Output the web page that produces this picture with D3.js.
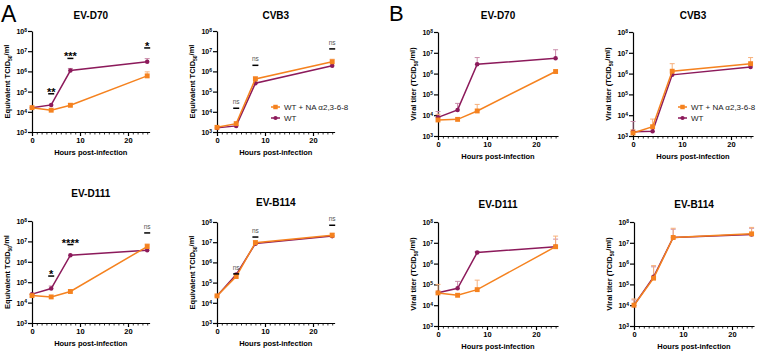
<!DOCTYPE html>
<html>
<head>
<meta charset="utf-8">
<script src="https://cdn.jsdelivr.net/npm/d3@7"></script>
<style>
  body { margin: 0; background: #fff; }
  text { font-family: "Liberation Sans", Arial, sans-serif; }
</style>
</head>
<body>
<svg id="fig" width="763" height="351"></svg>
<script>
// sampling times (hours post-infection)
const HOURS = [0, 4, 8, 24];
const SERIES = ["WT + NA \u03b12,3-6-8", "WT"];
const Y_TICKS = [1e3, 1e4, 1e5, 1e6, 1e7, 1e8];
const X_TICKS = [0, 10, 20];

// panel A: equivalent TCID50/ml (means, upper error caps)
const eqD70_na = [1.6e4, 1.2e4, 2.1e4, 6.0e5];
const eqD70_wt = [1.6e4, 2.2e4, 1.1e6, 3.0e6];
const eqD70_naErr = [null, null, 2.6e4, 9.5e5];
const eqD70_wtErr = [null, null, 1.4e6, 4.3e6];
const eqD70_sig = ["**", "***", "*"];
const eqD70_sigY = [7.8e4, 4.4e6, 1.45e7];

const eqCVB3_na = [1.7e3, 2.6e3, 4.2e5, 3.0e6];
const eqCVB3_wt = [1.6e3, 2.0e3, 2.6e5, 1.9e6];
const eqCVB3_naErr = [null, null, 5.5e5, 4.0e6];
const eqCVB3_wtErr = [null, null, null, null];
const eqCVB3_sig = ["ns", "ns", "ns"];
const eqCVB3_sigY = [1.5e4, 2.0e6, 1.3e7];

const eqD111_na = [2.2e4, 1.9e4, 3.5e4, 5.6e6];
const eqD111_wt = [2.6e4, 4.9e4, 2.1e6, 3.7e6];
const eqD111_naErr = [null, null, 4.2e4, 7.5e6];
const eqD111_wtErr = [null, 6.5e4, null, null];
const eqD111_sig = ["*", "****", "ns"];
const eqD111_sigY = [2.0e5, 7.0e6, 2.6e7];

const eqB114_na = [2.2e4, 2.0e5, 9.5e6, 2.2e7];
const eqB114_wt = [2.2e4, 2.5e5, 8.5e6, 2.0e7];
const eqB114_naErr = [null, null, 1.2e7, 2.8e7];
const eqB114_wtErr = [null, null, null, null];
const eqB114_sig = ["ns", "ns", "ns"];
const eqB114_sigY = [2.7e5, 1.8e7, 6.9e7];

// panel B: viral titer TCID50/ml
const vtD70_na = [5.9e3, 6.3e3, 1.6e4, 1.26e6];
const vtD70_wt = [7.9e3, 1.8e4, 2.8e6, 5.5e6];
const vtD70_naErr = [1.1e4, null, 3.3e4, null];
const vtD70_wtErr = [1.5e4, 3.7e4, 5.9e6, 1.4e7];

const vtCVB3_na = [1.4e3, 2.8e3, 1.3e6, 3.0e6];
const vtCVB3_wt = [1.6e3, 1.7e3, 8.7e5, 2.1e6];
const vtCVB3_naErr = [2.0e3, 6.5e3, 3.0e6, 5.9e6];
const vtCVB3_wtErr = [5.0e3, null, null, null];

const vtD111_na = [3.9e4, 3.0e4, 5.6e4, 6.5e6];
const vtD111_wt = [4.0e4, 6.5e4, 3.4e6, 6.5e6];
const vtD111_naErr = [1.0e5, null, 1.6e5, 2.1e7];
const vtD111_wtErr = [null, 1.4e5, 3.8e6, 1.5e7];

const vtB114_na = [1.0e4, 2.0e5, 1.8e7, 2.7e7];
const vtB114_wt = [1.0e4, 2.3e5, 1.8e7, 2.5e7];
const vtB114_naErr = [2.0e4, 8.0e5, 5.0e7, 5.5e7];
const vtB114_wtErr = [1.8e4, 7.0e5, 4.5e7, 5.0e7];

const ORANGE = "#f5821f", PURPLE = "#8c1a5b";
const ORANGE_ERR = "#f7b07a", PURPLE_ERR = "#c98aa8";

const svg = d3.select("#fig");

const panels = [
  { title: "EV-D70", x0: 32, px: 4.8, top: 31, bot: 132, titleY: 19, lab: "eq",
    na: eqD70_na, wt: eqD70_wt, naErr: eqD70_naErr, wtErr: eqD70_wtErr, sig: eqD70_sig, sigY: eqD70_sigY },
  { title: "CVB3", x0: 217, px: 4.8, top: 31, bot: 132, titleY: 19, lab: "eq", legend: [271, 107],
    na: eqCVB3_na, wt: eqCVB3_wt, naErr: eqCVB3_naErr, wtErr: eqCVB3_wtErr, sig: eqCVB3_sig, sigY: eqCVB3_sigY },
  { title: "EV-D111", x0: 32, px: 4.8, top: 221, bot: 323, titleY: 197, lab: "eq",
    na: eqD111_na, wt: eqD111_wt, naErr: eqD111_naErr, wtErr: eqD111_wtErr, sig: eqD111_sig, sigY: eqD111_sigY },
  { title: "EV-B114", x0: 217, px: 4.8, top: 222, bot: 323, titleY: 206, lab: "eq",
    na: eqB114_na, wt: eqB114_wt, naErr: eqB114_naErr, wtErr: eqB114_wtErr, sig: eqB114_sig, sigY: eqB114_sigY },
  { title: "EV-D70", x0: 438, px: 4.9, top: 32, bot: 136, titleY: 19, lab: "vt",
    na: vtD70_na, wt: vtD70_wt, naErr: vtD70_naErr, wtErr: vtD70_wtErr },
  { title: "CVB3", x0: 633, px: 4.9, top: 32, bot: 136, titleY: 19, lab: "vt", legend: [678, 107],
    na: vtCVB3_na, wt: vtCVB3_wt, naErr: vtCVB3_naErr, wtErr: vtCVB3_wtErr },
  { title: "EV-D111", x0: 438, px: 4.9, top: 222, bot: 326, titleY: 208, lab: "vt",
    na: vtD111_na, wt: vtD111_wt, naErr: vtD111_naErr, wtErr: vtD111_wtErr },
  { title: "EV-B114", x0: 634, px: 4.9, top: 222, bot: 326, titleY: 208, lab: "vt",
    na: vtB114_na, wt: vtB114_wt, naErr: vtB114_naErr, wtErr: vtB114_wtErr }
];

// panel letters
svg.append("text").attr("x", 1).attr("y", 22).attr("font-size", 23).text("A");
svg.append("text").attr("x", 389).attr("y", 21).attr("font-size", 22).text("B");

panels.forEach(drawPanel);

function drawPanel(p) {
  const x = d3.scaleLinear().domain([0, 24.5]).range([p.x0, p.x0 + 24.5 * p.px]);
  const y = d3.scaleLog().domain([1e3, 1e8]).range([p.bot, p.top]);
  const g = svg.append("g");
  const mid = (x.range()[0] + x.range()[1]) / 2;

  g.append("text")
    .attr("x", mid).attr("y", p.titleY)
    .attr("text-anchor", "middle").attr("font-size", 10).attr("font-weight", "bold")
    .text(p.title);

  // minor x ticks
  g.append("g")
    .attr("transform", "translate(0," + p.bot + ")")
    .call(d3.axisBottom(x).tickValues(d3.range(0, 25)).tickSize(2.5).tickSizeOuter(0).tickFormat(""))
    .call(a => a.select(".domain").remove())
    .selectAll("line").attr("stroke-width", 0.8);

  const xa = g.append("g")
    .attr("transform", "translate(0," + p.bot + ")")
    .call(d3.axisBottom(x).tickValues(X_TICKS).tickSize(4).tickSizeOuter(0).tickPadding(2));
  xa.select(".domain").attr("stroke-width", 1.2);
  xa.selectAll("line").attr("stroke-width", 1.2);
  xa.selectAll("text").attr("font-size", 7.5).attr("font-weight", "bold")
    .attr("font-family", "'Liberation Sans', Arial, sans-serif");

  const ya = g.append("g")
    .attr("transform", "translate(" + p.x0 + ",0)")
    .call(d3.axisLeft(y).tickValues(Y_TICKS).tickSize(4).tickSizeOuter(0).tickPadding(5).tickFormat(""));
  ya.select(".domain").attr("stroke-width", 1.2);
  ya.selectAll("line").attr("stroke-width", 1.2);
  ya.selectAll(".tick").append("text")
    .attr("x", -5).attr("dy", "0.35em")
    .attr("text-anchor", "end").attr("font-size", 7).attr("font-weight", "bold").attr("fill", "#000")
    .each(function(d) {
      const t = d3.select(this);
      t.append("tspan").text("10");
      t.append("tspan").attr("dy", "-0.45em").attr("font-size", 5).text(Math.round(Math.log10(d)));
    });

  g.append("text")
    .attr("x", mid).attr("y", p.bot + 23)
    .attr("text-anchor", "middle").attr("font-size", 7.5).attr("font-weight", "bold")
    .text("Hours post-infection");

  const yl = g.append("text")
    .attr("transform", "translate(" + (p.x0 - 22) + "," + (p.top + p.bot) / 2 + ") rotate(-90)")
    .attr("text-anchor", "middle").attr("font-size", 7.5).attr("font-weight", "bold");
  if (p.lab === "eq") {
    yl.append("tspan").text("Equivalent TCID");
    yl.append("tspan").attr("dy", "0.3em").attr("font-size", 5).text("50");
    yl.append("tspan").attr("dy", "-0.3em").text("/ml");
  } else {
    yl.append("tspan").text("Viral titer (TCID");
    yl.append("tspan").attr("dy", "0.3em").attr("font-size", 5).text("50");
    yl.append("tspan").attr("dy", "-0.3em").text("/ml)");
  }

  const line = d3.line().x((d, i) => x(HOURS[i])).y(d => y(d));
  const series = [
    { vals: p.wt, err: p.wtErr, color: PURPLE, ecol: PURPLE_ERR, shape: "circle" },
    { vals: p.na, err: p.naErr, color: ORANGE, ecol: ORANGE_ERR, shape: "square" }
  ];

  series.forEach(s => {
    // error bars (upper)
    HOURS.forEach((h, i) => {
      if (s.err[i] == null) return;
      g.append("line").attr("x1", x(h)).attr("x2", x(h))
        .attr("y1", y(s.vals[i])).attr("y2", y(s.err[i]))
        .attr("stroke", s.ecol).attr("stroke-width", 1);
      g.append("line").attr("x1", x(h) - 2.5).attr("x2", x(h) + 2.5)
        .attr("y1", y(s.err[i])).attr("y2", y(s.err[i]))
        .attr("stroke", s.ecol).attr("stroke-width", 1);
    });
  });

  series.forEach(s => {
    g.append("path").datum(s.vals)
      .attr("d", line).attr("fill", "none")
      .attr("stroke", s.color).attr("stroke-width", 1.5);
    g.selectAll(null).data(s.vals).enter()
      .append("path")
      .attr("d", d3.symbol().type(s.shape === "circle" ? d3.symbolCircle : d3.symbolSquare).size(s.shape === "circle" ? 16 : 24))
      .attr("transform", (d, i) => "translate(" + x(HOURS[i]) + "," + y(d) + ")")
      .attr("fill", s.color);
  });

  if (p.sig) {
    p.sig.forEach((t, i) => {
      const cx = x(HOURS[i + 1]), cy = y(p.sigY[i]);
      g.append("line").attr("x1", cx - 3).attr("x2", cx + 3).attr("y1", cy).attr("y2", cy)
        .attr("stroke", "#000").attr("stroke-width", 1.5);
      if (t === "ns") {
        g.append("text").attr("x", cx).attr("y", cy - 4)
          .attr("text-anchor", "middle").attr("font-size", 6.5).attr("fill", "#555").text(t);
      } else {
        g.append("text").attr("x", cx).attr("y", cy + 2)
          .attr("text-anchor", "middle").attr("font-size", 11).attr("font-weight", "bold").text(t);
      }
    });
  }

  if (p.legend) {
    const [lx, ly] = p.legend;
    const items = [{ name: SERIES[0], color: ORANGE, sym: d3.symbolSquare, size: 20 },
                   { name: SERIES[1], color: PURPLE, sym: d3.symbolCircle, size: 14 }];
    items.forEach((it, i) => {
      const yy = ly + i * 11;
      g.append("line").attr("x1", lx).attr("x2", lx + 9).attr("y1", yy).attr("y2", yy)
        .attr("stroke", it.color).attr("stroke-width", 1.5);
      g.append("path").attr("d", d3.symbol().type(it.sym).size(it.size)())
        .attr("transform", "translate(" + (lx + 4.5) + "," + yy + ")").attr("fill", it.color);
      g.append("text").attr("x", lx + 13).attr("y", yy + 3)
        .attr("font-size", 8).attr("fill", "#222").text(it.name);
    });
  }
}
</script>
</body>
</html>
